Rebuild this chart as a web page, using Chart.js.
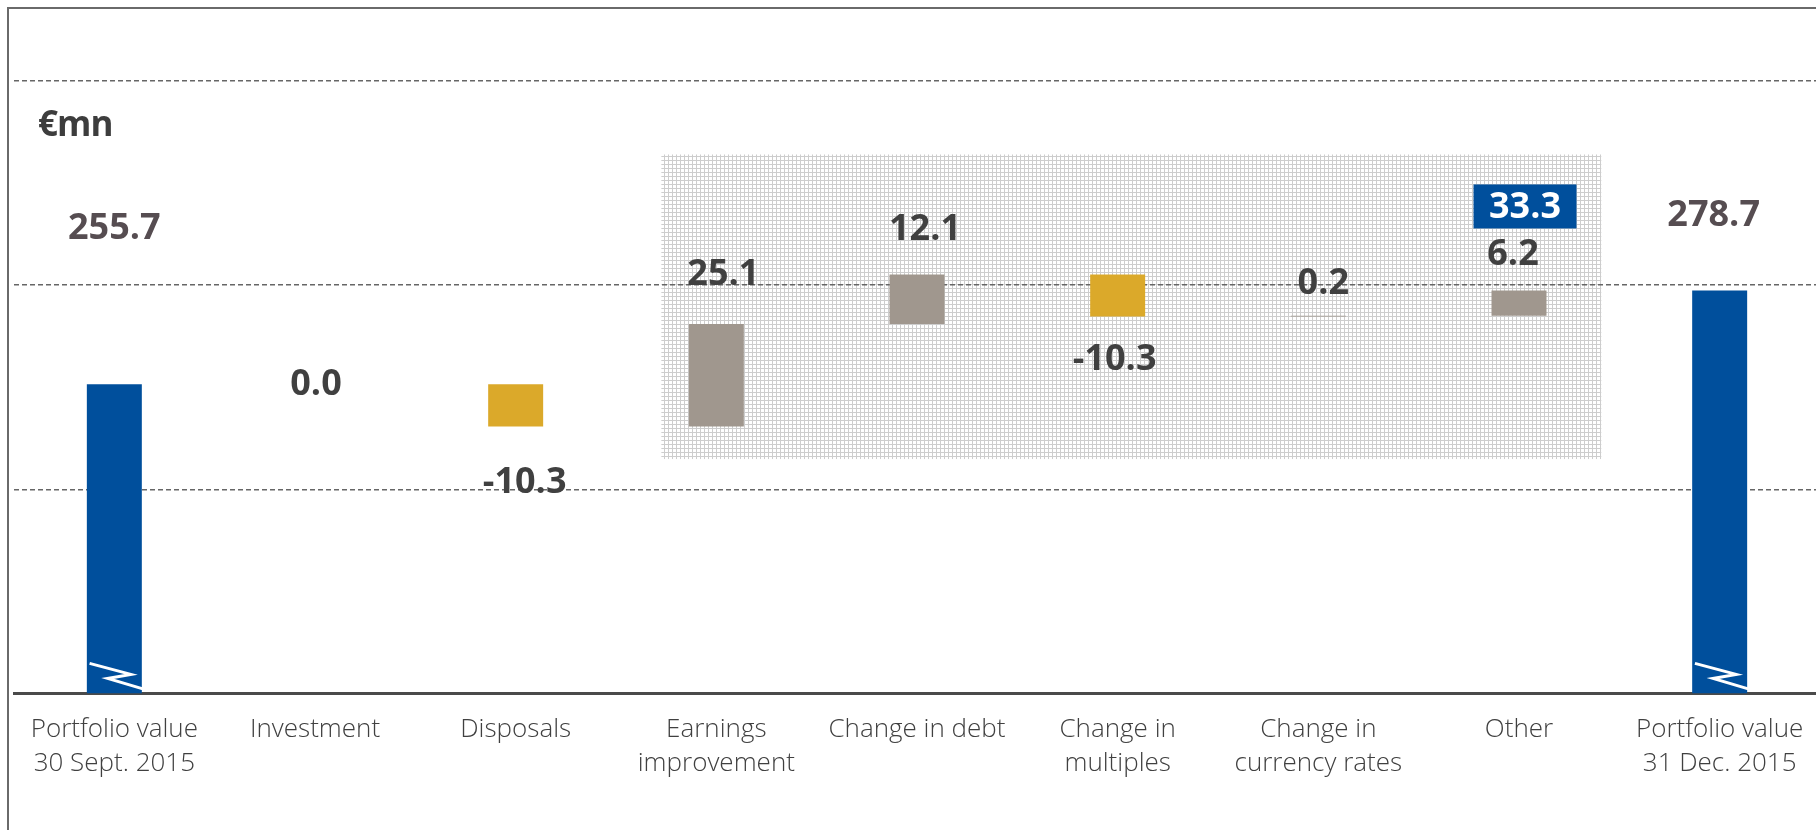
<!DOCTYPE html>
<html lang="en">
<head>
  <meta charset="UTF-8" />
  <title>Portfolio value bridge</title>
  <script src="https://cdn.jsdelivr.net/npm/chart.js"></script>
  <style>
    body {
      margin: 0;
      width: 1816px;
      height: 830px;
      overflow: hidden;
      background: #fff;
      font-family: 'Open Sans', sans-serif;
      position: relative;
    }
    .frame {
      position: absolute;
      left: 7px;
      top: 7px;
      width: 1900px;
      height: 900px;
      border-left: 2px solid #6a6a6a;
      border-top: 2px solid #6a6a6a;
    }
    .unit {
      position: absolute;
      left: 38px;
      top: 99px;
      font-size: 35px;
      font-weight: bold;
      color: #3d3d3d;
      letter-spacing: -1px;
    }
    canvas {
      position: absolute;
      left: 0;
      top: 0;
    }
  </style>
</head>
<body>
  <canvas id="bridgeChart" width="1830" height="830"></canvas>
  <div class="frame"></div>
  <div class="unit">€mn</div>

  <script>
    const categories = [
      ['Portfolio value', '30 Sept. 2015'],
      'Investment',
      'Disposals',
      ['Earnings', 'improvement'],
      'Change in debt',
      ['Change in', 'multiples'],
      ['Change in', 'currency rates'],
      'Other',
      ['Portfolio value', '31 Dec. 2015']
    ];
    const startValue = 255.7;
    const changes = [0.0, -10.3, 25.1, 12.1, -10.3, 0.2, 6.2];
    const endValue = 278.7;
    const valueChangeTotal = 33.3;   // sum of the boxed changes
    const axisMin = 180;
    const axisMax = 330;
    const axisStep = 50;

    const BLUE = '#004f9c';
    const GOLD = '#dba92a';
    const GREY = '#a0978e';

    // floating bars: totals from the (broken) axis floor, changes stacked on the running level
    const ranges = [[axisMin, startValue]];
    const barColors = [BLUE];
    let level = startValue;
    changes.forEach(c => {
      ranges.push([level, level + c]);
      barColors.push(c < 0 ? GOLD : GREY);
      level += c;
    });
    ranges.push([axisMin, endValue]);
    barColors.push(BLUE);

    const valueTexts = [startValue, ...changes, endValue].map(v => v.toFixed(1));

    // hatched background behind the valuation changes
    const hatchPlugin = {
      id: 'hatch',
      beforeDraw(chart, args, opts) {
        const { ctx, scales: { x, y } } = chart;
        const cw = x.getPixelForValue(1) - x.getPixelForValue(0);
        const left = x.getPixelForValue(opts.from) - opts.padLeft * cw;
        const right = x.getPixelForValue(opts.to) + opts.padRight * cw;
        const top = y.getPixelForValue(opts.top);
        const bottom = y.getPixelForValue(opts.bottom);

        const tile = document.createElement('canvas');
        tile.width = 4;
        tile.height = 4;
        const t = tile.getContext('2d');
        t.fillStyle = '#ffffff';
        t.fillRect(0, 0, 4, 4);
        t.fillStyle = '#cdcdcd';
        t.fillRect(0, 0, 1, 4);
        t.fillRect(0, 0, 4, 1);

        ctx.save();
        ctx.fillStyle = ctx.createPattern(tile, 'repeat');
        ctx.fillRect(left, top, right - left, bottom - top);
        ctx.restore();
      }
    };

    // value labels, the 33.3 box and the axis-break marks
    const labelPlugin = {
      id: 'bridgeLabels',
      afterDatasetsDraw(chart, args, opts) {
        const { ctx } = chart;
        const meta = chart.getDatasetMeta(0);
        ctx.save();
        ctx.textAlign = 'center';
        ctx.textBaseline = 'middle';
        ctx.font = 'bold 36px "Open Sans"';

        meta.data.forEach((bar, i) => {
          const [dx, dy, anchor] = opts.offsets[i];
          let ref;
          if (anchor === 'top') ref = Math.min(bar.y, bar.base);
          else if (anchor === 'bottom') ref = Math.max(bar.y, bar.base);
          else ref = bar.y;
          ctx.fillStyle = (i === 0 || i === meta.data.length - 1) ? '#564d51' : '#404040';
          ctx.fillText(valueTexts[i], bar.x + dx, ref + dy);
        });

        // boxed subtotal above "Other"
        const other = meta.data[opts.box.index];
        const bx = other.x + opts.box.dx;
        const by = Math.min(other.y, other.base) + opts.box.dy;
        ctx.fillStyle = BLUE;
        ctx.fillRect(bx - opts.box.w / 2, by - opts.box.h / 2, opts.box.w, opts.box.h);
        ctx.fillStyle = '#ffffff';
        ctx.fillText(valueChangeTotal.toFixed(1), bx, by + 1);

        // break marks on the total bars
        ctx.strokeStyle = '#ffffff';
        ctx.lineWidth = 3;
        [0, meta.data.length - 1].forEach(i => {
          const b = meta.data[i];
          const l = b.x - b.width / 2;
          const w = b.width;
          ctx.beginPath();
          ctx.moveTo(l + 0.05 * w, b.base - 30);
          ctx.lineTo(l + 0.8 * w, b.base - 19);
          ctx.lineTo(l + 0.38 * w, b.base - 15);
          ctx.lineTo(l + 1.05 * w, b.base - 4);
          ctx.stroke();
        });
        ctx.restore();
      }
    };

    const ctx = document.getElementById('bridgeChart').getContext('2d');

    new Chart(ctx, {
      type: 'bar',
      data: {
        labels: categories,
        datasets: [{
          data: ranges,
          backgroundColor: barColors,
          borderWidth: 0,
          categoryPercentage: 1,
          barPercentage: 0.274
        }]
      },
      options: {
        responsive: false,
        animation: false,
        layout: { padding: { left: 14, right: 10, top: 81, bottom: 31 } },
        scales: {
          x: {
            grid: { display: false, drawTicks: false },
            border: { display: true, color: '#4a4a4a', width: 3 },
            ticks: {
              autoSkip: false,
              maxRotation: 0,
              padding: 19,
              color: '#404040',
              font: { family: 'Open Sans', size: 26, weight: '300', lineHeight: 1.3 }
            }
          },
          y: {
            min: axisMin,
            max: axisMax,
            ticks: { stepSize: axisStep, display: false },
            grid: {
              drawTicks: false,
              lineWidth: 1.5,
              color: c => c.tick.value === axisMin ? 'rgba(0,0,0,0)' : '#666666'
            },
            border: { display: false, dash: [5, 3] }
          }
        },
        plugins: {
          legend: { display: false },
          tooltip: { enabled: false },
          hatch: { from: 3, to: 7, padLeft: 0.274, padRight: 0.41, top: 312, bottom: 237.4 },
          bridgeLabels: {
            offsets: [
              [0, -156, 'top'],
              [1, 0, 'level'],
              [9, 56, 'bottom'],
              [7, -49, 'top'],
              [8, -45, 'top'],
              [-3, 43, 'bottom'],
              [5, -32, 'top'],
              [-6, -36, 'top'],
              [-6, -75, 'top']
            ],
            box: { index: 7, dx: 6, dy: -84, w: 103, h: 44 }
          }
        }
      },
      plugins: [hatchPlugin, labelPlugin]
    });
  </script>
</body>
</html>
